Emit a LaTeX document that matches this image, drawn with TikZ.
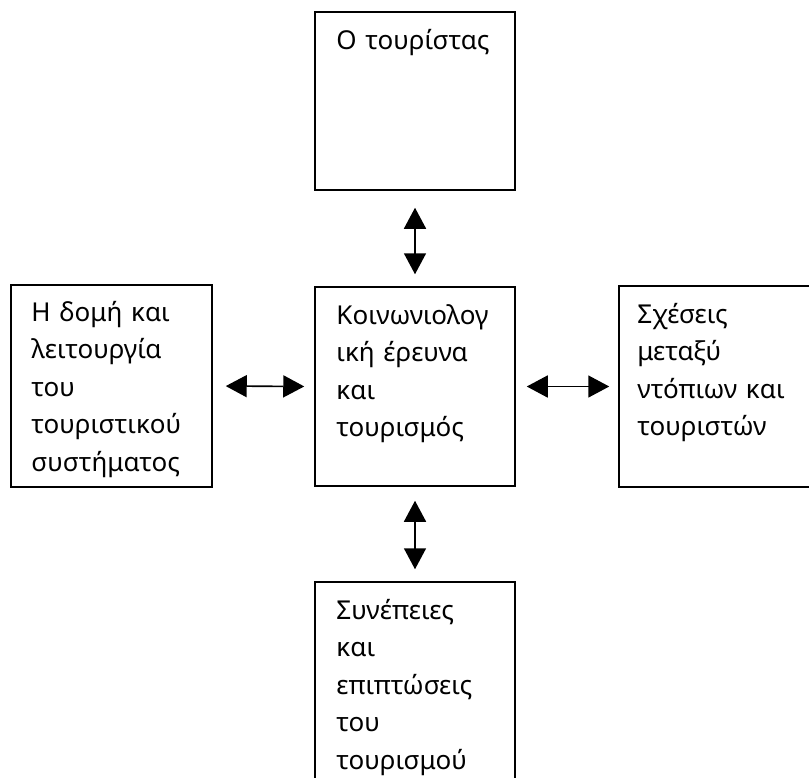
\documentclass[tikz,border=0pt]{standalone}
\usepackage{fontspec}
\setmainfont{Noto Sans}
\usetikzlibrary{arrows.meta}
\tikzset{
  box/.style={draw, line width=1.5pt, minimum width=200pt, inner sep=0pt},
  label/.style={anchor=base west, inner sep=0pt, text width=190pt, align=left,
    font=\fontsize{26}{37.5}\selectfont},
  link/.style={line width=1.6pt, {Triangle[width=22pt,length=21pt]}-{Triangle[width=22pt,length=21pt]}}
}
\begin{document}
\begin{tikzpicture}[x=1pt,y=-1pt]
\clip (0,0) rectangle (809,777);
\node[box, minimum height=178pt] (tour) at (415,101) {};
\node[box, minimum height=199pt] (socio) at (415,386.5) {};
\node[box, minimum width=201pt, minimum height=202pt] (struct) at (111.5,386) {};
\node[box, minimum width=240pt, minimum height=201pt] (rel) at (739,386.5) {};
\node[box, minimum height=220pt] (cons) at (415,692) {};

\node[label] (ttour) at ([xshift=22pt,yshift=-38pt]tour.north west) {Ο τουρίστας};
\node[label] (tsocio) at ([xshift=22pt,yshift=-38pt]socio.north west) {Κοινωνιολογ\\ική έρευνα\\και\\τουρισμός};
\node[label] (tstruct) at ([xshift=21pt,yshift=-37pt]struct.north west) {Η δομή και\\λειτουργία\\του\\τουριστικού\\συστήματος};
\node[label] (trel) at ([xshift=19pt,yshift=-38pt]rel.north west) {Σχέσεις\\μεταξύ\\ντόπιων και\\τουριστών};
\node[label] (tcons) at ([xshift=22pt,yshift=-38pt]cons.north west) {Συνέπειες\\και\\επιπτώσεις\\του\\τουρισμού};

\draw[link, shorten <=17pt, shorten >=12pt] (tour.south) -- (socio.north);
\draw[link, shorten <=13pt, shorten >=10pt] (struct.east) -- (socio.west);
\draw[link, shorten <=11pt, shorten >=9pt] (socio.east) -- (rel.west);
\draw[link, shorten <=14pt, shorten >=12pt] (socio.south) -- (cons.north);
\end{tikzpicture}
\end{document}
